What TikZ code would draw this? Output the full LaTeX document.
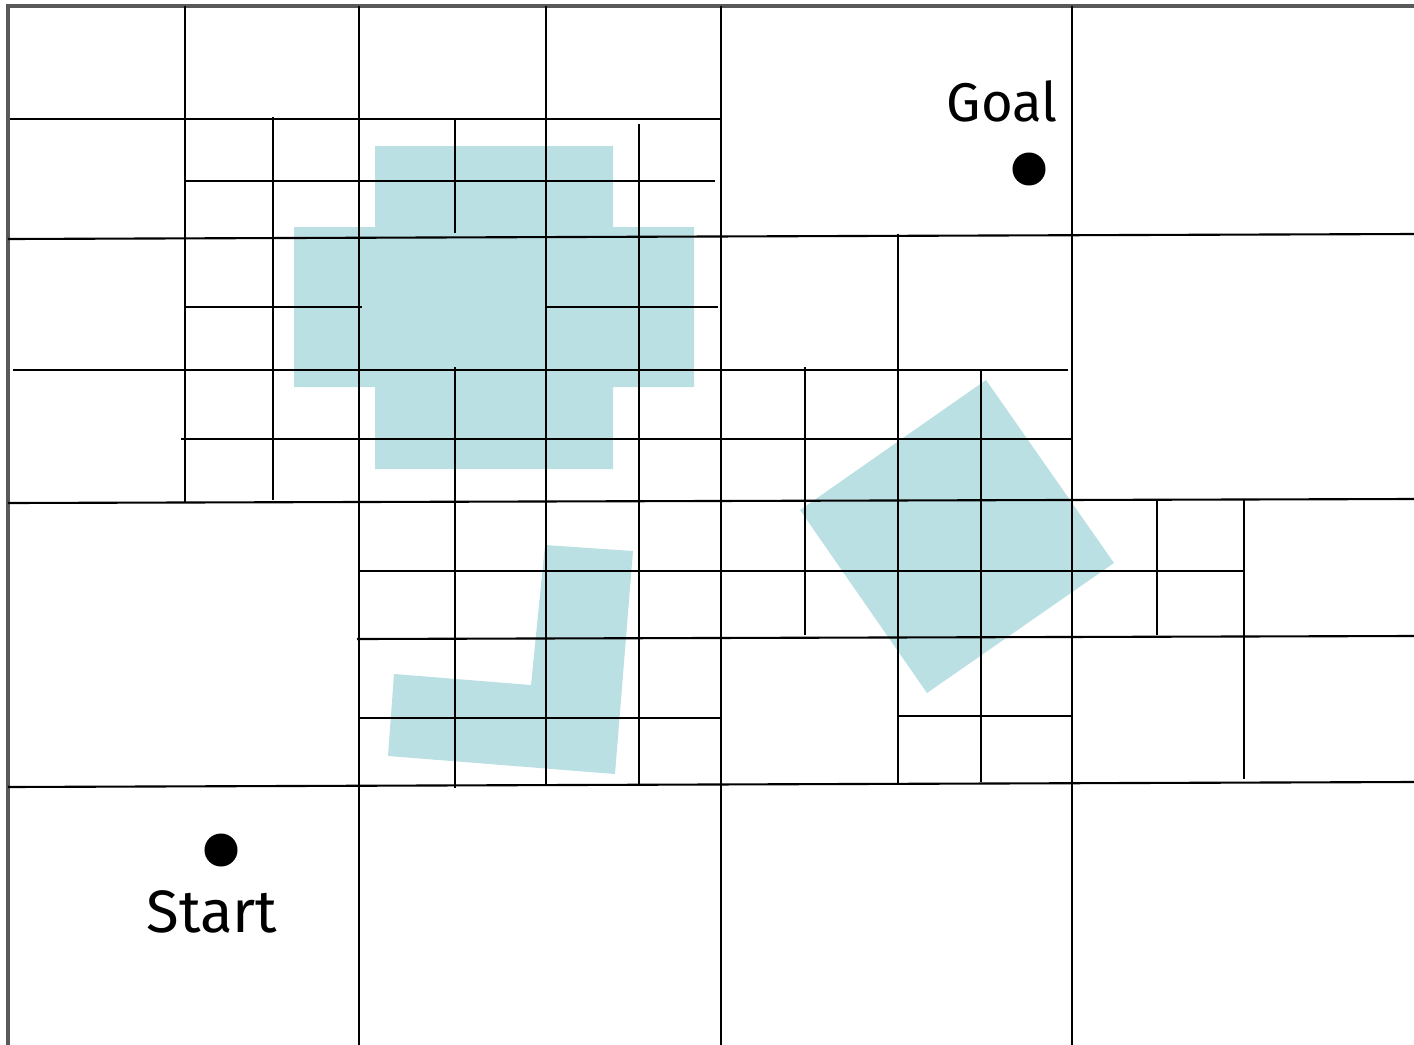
\documentclass[tikz,border=0pt]{standalone}
\usepackage{fontspec}
\setmainfont{Fira Sans}
\usetikzlibrary{positioning}

\begin{document}
\begin{tikzpicture}[x=0.01cm,y=-0.01cm,
  obst/.style={fill=obstcol,draw=none},
  cell/.style={draw=black,line width=0.6pt},
  frame/.style={draw=black!65,line width=1pt},
  pt/.style={circle,fill=black,inner sep=0pt,minimum width=0.3cm,minimum height=0.33cm},
  lbl/.style={font=\fontsize{17}{20}\selectfont}]
\definecolor{obstcol}{HTML}{BBE0E3}
\useasboundingbox (0,0) rectangle (1414,1045);
% obstacles
\fill[obst] (375,146)--(613,146)--(613,227)--(694,227)--(694,387)--(613,387)--(613,469)--(375,469)--(375,387)--(294,387)--(294,227)--(375,227)--cycle;
\fill[obst] (545,545)--(633,551)--(615,774)--(388,756)--(394,674)--(531,685)--cycle;
\fill[obst] (986,380)--(1114,563)--(927,693)--(800,510)--cycle;
% outer frame
\draw[frame] (8,1045)--(8,6)--(1414,6);
% cells, vertical
\foreach \x/\a/\b in {185/6/502,359/6/1045,546/6/785,721/6/1045,1072/6/1045,
  273/117/500,455/119/233,455/367/788,639/124/785,805/367/635,898/234/784,
  981/369/782,1157/500/635,1244/500/779}
  \draw[cell] (\x,\a)--(\x,\b);
% cells, horizontal
\foreach \y/\a/\b in {119/10/721,181/185/715,307/185/362,307/546/718,370/13/1068,
  439/181/1072,571/359/1244,716/898/1072,718/359/721}
  \draw[cell] (\a,\y)--(\b,\y);
\draw[cell] (8,239)--(1414,234);
\draw[cell] (8,503)--(1414,499);
\draw[cell] (357,639)--(1414,636);
\draw[cell] (8,787)--(1414,782);
% start and goal
\node[pt] (start) at (221,850) {};
\node[lbl,below=3pt of start,xshift=-0.09cm] (startlbl) {Start};
\node[pt] (goal) at (1029,169) {};
\node[lbl,above=5pt of goal,xshift=-0.27cm,font=\fontsize{15.5}{18}\selectfont] (goallbl) {Goal};
\end{tikzpicture}
\end{document}
